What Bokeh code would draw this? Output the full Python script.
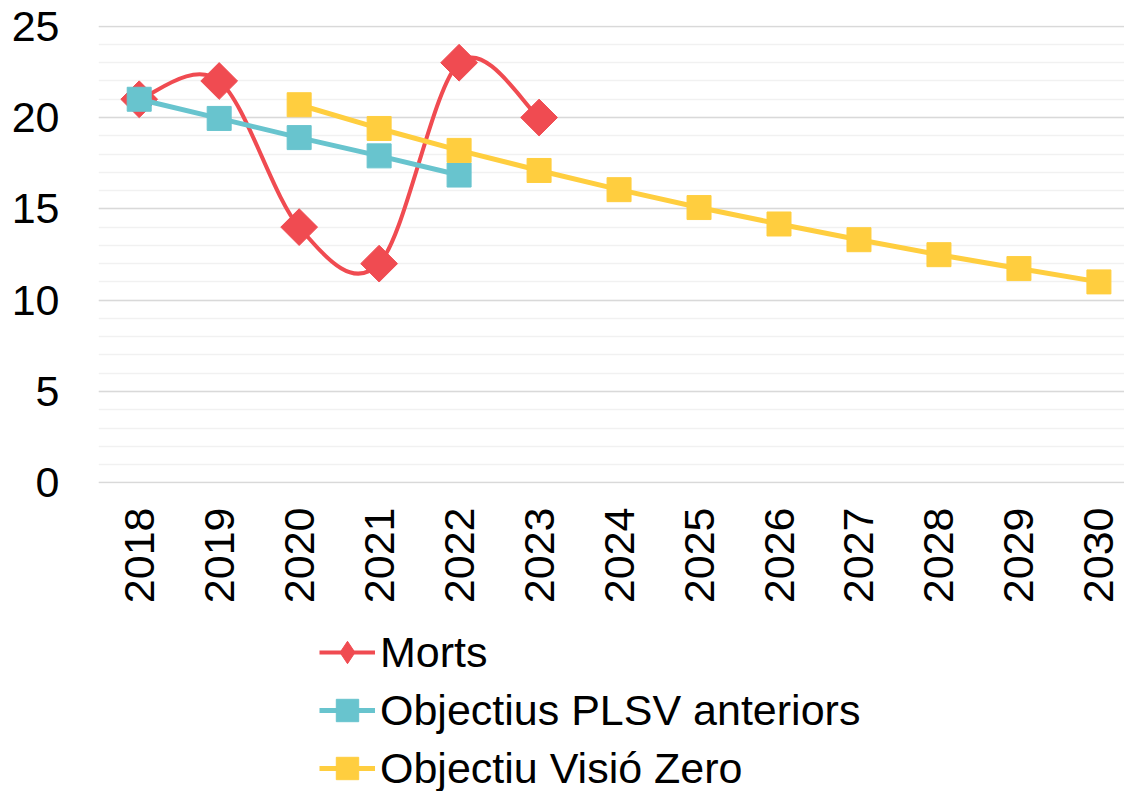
import math
from bokeh.plotting import figure
from bokeh.layouts import column
from bokeh.models import Range1d, FixedTicker, Legend, LegendItem
from bokeh.embed import file_html
from bokeh.resources import INLINE

# ---- data ----
years = ["2018", "2019", "2020", "2021", "2022", "2023", "2024",
         "2025", "2026", "2027", "2028", "2029", "2030"]
morts_years = ["2018", "2019", "2020", "2021", "2022", "2023"]
morts = [21, 22, 14, 12, 23, 20]
plsv_years = ["2018", "2019", "2020", "2021", "2022"]
plsv = [21, 19.95, 18.9, 17.9, 16.85]
vz_years = ["2020", "2021", "2022", "2023", "2024", "2025", "2026",
            "2027", "2028", "2029", "2030"]
vz = [20.7, 19.4, 18.2, 17.1, 16.05, 15.07, 14.17, 13.31, 12.49, 11.73, 11.0]
y_ticks = [0, 5, 10, 15, 20, 25]
series_names = ["Morts", "Objectius PLSV anteriors", "Objectiu Visió Zero"]

RED = "#F04B51"
TEAL = "#68C4CE"
YELLOW = "#FFCE3F"
FONT = "Liberation Sans"
FS = "43px"

def xi(labels):
    return [years.index(s) for s in labels]

mx, px, vx = xi(morts_years), xi(plsv_years), xi(vz_years)

# ================= main chart =================
p = figure(width=1124, height=610, output_backend="svg", toolbar_location=None,
           x_range=Range1d(-0.509, 12.32), y_range=Range1d(-0.038, 25.038),
           min_border_left=98, min_border_top=25, min_border_right=0,
           min_border_bottom=127)
p.outline_line_color = None
p.background_fill_color = "white"
p.border_fill_color = "white"

p.xaxis.ticker = FixedTicker(ticks=list(range(len(years))))
p.xaxis.major_label_overrides = {i: y for i, y in enumerate(years)}
p.xaxis.major_label_orientation = math.pi / 2
p.yaxis.ticker = FixedTicker(ticks=y_ticks, minor_ticks=list(range(0, 26)))
for ax in (p.xaxis, p.yaxis):
    ax.axis_line_color = None
    ax.major_tick_line_color = None
    ax.minor_tick_line_color = None
    ax.major_label_text_font = FONT
    ax.major_label_text_font_size = FS
    ax.major_label_text_color = "black"
p.yaxis.major_label_standoff = 33
p.xaxis.major_label_standoff = 18

p.xgrid.grid_line_color = None
p.ygrid.grid_line_color = "#D9D9D9"
p.ygrid.grid_line_width = 1.6
p.ygrid.minor_grid_line_color = "#F1F1F1"
p.ygrid.minor_grid_line_width = 1.6

# Morts: smoothed curve (Catmull-Rom -> cubic Bezier)
n = len(mx)
x0s, y0s, x1s, y1s, c0x, c0y, c1x, c1y = [], [], [], [], [], [], [], []
for i in range(n - 1):
    pm = max(i - 1, 0)
    pp = min(i + 2, n - 1)
    x0s.append(mx[i]); y0s.append(morts[i])
    x1s.append(mx[i + 1]); y1s.append(morts[i + 1])
    c0x.append(mx[i] + (mx[i + 1] - mx[pm]) / 6.0)
    c0y.append(morts[i] + (morts[i + 1] - morts[pm]) / 6.0)
    c1x.append(mx[i + 1] - (mx[pp] - mx[i]) / 6.0)
    c1y.append(morts[i + 1] - (morts[pp] - morts[i]) / 6.0)
p.bezier(x0=x0s, y0=y0s, x1=x1s, y1=y1s, cx0=c0x, cy0=c0y, cx1=c1x, cy1=c1y,
         line_color=RED, line_width=4)
p.scatter(mx, morts, marker="square", angle=math.pi / 4, size=26,
          fill_color=RED, line_color=RED)

p.line(px, plsv, line_color=TEAL, line_width=5)
p.scatter(px, plsv, marker="square", size=24, fill_color=TEAL, line_color=TEAL)

p.line(vx, vz, line_color=YELLOW, line_width=5)
p.scatter(vx, vz, marker="square", size=24, fill_color=YELLOW, line_color=YELLOW)

# ================= legend strip =================
p2 = figure(width=1124, height=181, output_backend="svg", toolbar_location=None,
            x_range=Range1d(100, 101), y_range=Range1d(100, 101),
            x_axis_type=None, y_axis_type=None,
            min_border=0, min_border_left=0, min_border_right=0,
            min_border_top=0, min_border_bottom=0)
p2.outline_line_color = None
p2.xgrid.visible = False
p2.ygrid.visible = False

l_m = p2.line(mx, morts, line_color=RED, line_width=4, visible=False)
s_m = p2.scatter(mx, morts, marker="diamond", size=24, fill_color=RED,
                 line_color=RED, visible=False)
l_p = p2.line(px, plsv, line_color=TEAL, line_width=5, visible=False)
s_p = p2.scatter(px, plsv, marker="square", size=24, fill_color=TEAL,
                 line_color=TEAL, visible=False)
l_v = p2.line(vx, vz, line_color=YELLOW, line_width=5, visible=False)
s_v = p2.scatter(vx, vz, marker="square", size=24, fill_color=YELLOW,
                 line_color=YELLOW, visible=False)

legend = Legend(items=[
    LegendItem(label=series_names[0], renderers=[l_m, s_m]),
    LegendItem(label=series_names[1], renderers=[l_p, s_p]),
    LegendItem(label=series_names[2], renderers=[l_v, s_v]),
])
legend.label_text_font = FONT
legend.label_text_font_size = FS
legend.label_text_color = "black"
legend.glyph_width = 56
legend.glyph_height = 56
legend.label_height = 56
legend.spacing = 2
legend.padding = 0
legend.margin = 0
legend.label_standoff = 5
legend.border_line_color = None
legend.background_fill_alpha = 0
legend.location = (221, -5)
p2.add_layout(legend, "center")

layout = column(p, p2, spacing=0)
open("out.html", "w").write(file_html(layout, INLINE))
